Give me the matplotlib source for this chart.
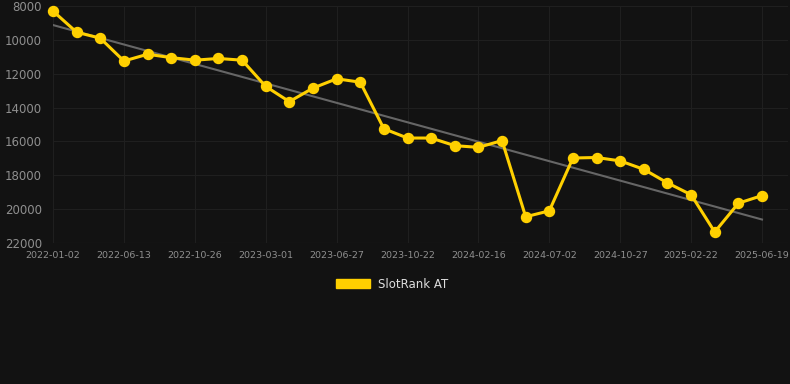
import numpy as np
import matplotlib.pyplot as plt

# rank values per snapshot (lower is better, axis inverted)
ranks = [8300, 9550, 9900, 11250, 10850, 11050, 11200, 11100, 11200, 12750,
         13650, 12850, 12300, 12500, 15250, 15800, 15800, 16250, 16350, 15950,
         20450, 20100, 16980, 16950, 17150, 17650, 18450, 19150, 21350, 19650,
         19200]
tick_labels = ["2022-01-02", "2022-06-13", "2022-10-26", "2023-03-01",
               "2023-06-27", "2023-10-22", "2024-02-16", "2024-07-02",
               "2024-10-27", "2025-02-22", "2025-06-19"]
y_ticks = [8000, 10000, 12000, 14000, 16000, 18000, 20000, 22000]

bg = "#121212"
yellow = "#FFD000"

x = np.arange(len(ranks))
slope, intercept = np.polyfit(x, ranks, 1)
trend = slope * x + intercept

fig = plt.figure(figsize=(7.9, 3.84), dpi=100, facecolor=bg)
ax = fig.add_axes([53 / 790, (384 - 243) / 384, (788 - 53) / 790, (243 - 6) / 384])
ax.set_facecolor(bg)

ax.plot(x, trend, color="#666666", lw=1.5, zorder=2)
ax.plot(x, ranks, color=yellow, lw=2.2, marker="o", markersize=7.2,
        zorder=3, clip_on=False, label="SlotRank AT")

ax.set_ylim(22000, 8000)
ax.set_yticks(y_ticks)
ax.set_xlim(0, 31.1)
ax.set_xticks(x[::3])
ax.set_xticklabels(tick_labels)

ax.grid(True, color="#1f1f1f", lw=0.8)
for s in ax.spines.values():
    s.set_visible(False)
ax.tick_params(axis="y", length=0, colors="#8f8f8f", labelsize=8.5, pad=8)
ax.tick_params(axis="x", length=0, colors="#8f8f8f", labelsize=6.8, pad=6)
ax.axhline(22000, color="#2a2a2a", lw=0.8)

handle = plt.Rectangle((0, 0), 1, 1, color=yellow)
fig.legend([handle], ["SlotRank AT"], loc="center", bbox_to_anchor=(392 / 790, 1 - 284 / 384),
           frameon=False, labelcolor="#dddddd", fontsize=8.5,
           handlelength=2.9, handleheight=0.9, handletextpad=0.6)

fig.savefig("out.png", dpi=100, facecolor=bg)
